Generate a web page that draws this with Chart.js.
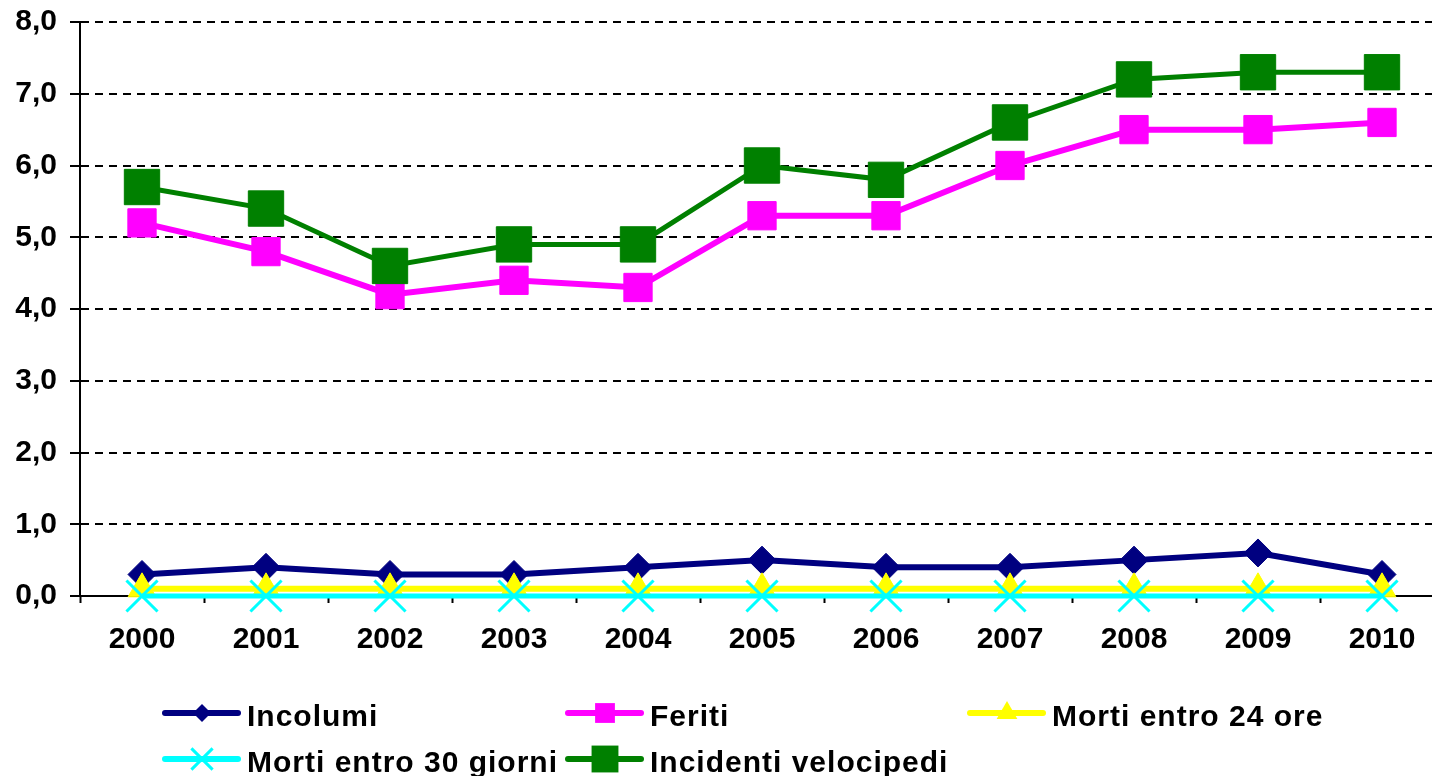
<!DOCTYPE html>
<html>
<head>
<meta charset="utf-8">
<script src="https://cdn.jsdelivr.net/npm/chart.js@4/dist/chart.umd.min.js"></script>
<style>
  html, body { margin: 0; padding: 0; background: #fff; overflow: hidden; }
  #wrap { width: 1444px; height: 776px; }
</style>
</head>
<body>
<div id="wrap"><canvas id="c" width="1444" height="776"></canvas></div>
<script>
const years = ['2000','2001','2002','2003','2004','2005','2006','2007','2008','2009','2010'];
const incolumi  = [0.3, 0.4, 0.3, 0.3, 0.4, 0.5, 0.4, 0.4, 0.5, 0.6, 0.3];
const feriti    = [5.2, 4.8, 4.2, 4.4, 4.3, 5.3, 5.3, 6.0, 6.5, 6.5, 6.6];
const morti24   = [0.1, 0.1, 0.1, 0.1, 0.1, 0.1, 0.1, 0.1, 0.1, 0.1, 0.1];
const morti30   = [0.0, 0.0, 0.0, 0.0, 0.0, 0.0, 0.0, 0.0, 0.0, 0.0, 0.0];
const incidenti = [5.7, 5.4, 4.6, 4.9, 4.9, 6.0, 5.8, 6.6, 7.2, 7.3, 7.3];
const seriesNames = ['Incolumi', 'Feriti', 'Morti entro 24 ore', 'Morti entro 30 giorni', 'Incidenti velocipedi'];

const FONT = "'Liberation Sans', Arial, sans-serif";

function ds(label, data, color, style, radius, width, order, legendR) {
  return {
    label, data, order,
    borderColor: color, backgroundColor: color,
    borderWidth: width, tension: 0, clip: false,
    pointStyle: style, pointRadius: radius, pointHoverRadius: radius,
    pointBackgroundColor: color, pointBorderColor: color,
    pointBorderWidth: style === 'crossRot' ? 3 : 1,
    legendR
  };
}

const datasets = [
  ds(seriesNames[0], incolumi, '#000080', 'rectRot', 14, 6, 5, 9),
  ds(seriesNames[1], feriti, '#FF00FF', 'rect', 20, 6, 4, 14),
  ds(seriesNames[2], morti24, '#FFFF00', 'triangle', 16, 6, 3, 12),
  ds(seriesNames[3], morti30, '#00FFFF', 'crossRot', 22, 5, 2, 15),
  ds(seriesNames[4], incidenti, '#008000', 'rect', 25, 5, 1, 19)
];

function drawMarker(ctx, d, x, y, r) {
  ctx.save();
  ctx.fillStyle = d.pointBackgroundColor;
  ctx.strokeStyle = d.pointBorderColor;
  ctx.beginPath();
  if (d.pointStyle === 'rectRot') {
    ctx.moveTo(x - r, y); ctx.lineTo(x, y - r); ctx.lineTo(x + r, y); ctx.lineTo(x, y + r);
    ctx.closePath(); ctx.fill();
  } else if (d.pointStyle === 'rect') {
    const s = r * Math.SQRT1_2;
    ctx.rect(x - s, y - s, 2 * s, 2 * s); ctx.fill();
  } else if (d.pointStyle === 'triangle') {
    ctx.moveTo(x, y - r);
    ctx.lineTo(x + r * Math.sin(2 * Math.PI / 3), y - r * Math.cos(2 * Math.PI / 3));
    ctx.lineTo(x + r * Math.sin(4 * Math.PI / 3), y - r * Math.cos(4 * Math.PI / 3));
    ctx.closePath(); ctx.fill();
  } else if (d.pointStyle === 'crossRot') {
    const o = r * Math.SQRT1_2;
    ctx.lineWidth = 3;
    ctx.moveTo(x - o, y - o); ctx.lineTo(x + o, y + o);
    ctx.moveTo(x + o, y - o); ctx.lineTo(x - o, y + o);
    ctx.stroke();
  }
  ctx.restore();
}

const gridLegend = {
  id: 'gridLegend',
  afterDraw(chart) {
    const ctx = chart.ctx;
    const cols = [165, 568, 970];
    const rows = [713, 759];
    chart.data.datasets.forEach((d, i) => {
      const x = cols[i % 3], y = rows[Math.floor(i / 3)];
      ctx.save();
      ctx.strokeStyle = d.borderColor;
      ctx.lineWidth = 6;
      ctx.lineCap = 'round';
      ctx.beginPath(); ctx.moveTo(x, y); ctx.lineTo(x + 73, y); ctx.stroke();
      ctx.restore();
      drawMarker(ctx, d, x + 37, y, d.legendR);
      ctx.save();
      ctx.fillStyle = '#000';
      ctx.font = "bold 30px " + FONT;
      ctx.letterSpacing = '1px';
      ctx.textAlign = 'left';
      ctx.textBaseline = 'alphabetic';
      ctx.fillText(d.label, x + 82, y + 13);
      ctx.restore();
    });
  }
};

new Chart(document.getElementById('c'), {
  type: 'line',
  data: { labels: years, datasets },
  options: {
    responsive: false,
    devicePixelRatio: 1,
    animation: false,
    layout: { autoPadding: false, padding: { top: 22, left: 0, right: 0, bottom: 0 } },
    plugins: { legend: { display: false }, tooltip: { enabled: false } },
    scales: {
      x: {
        offset: true,
        afterFit(scale) { scale.height = 180; scale.paddingLeft = 0; scale.paddingRight = 0; },
        grid: { display: true, offset: true, drawOnChartArea: false, drawTicks: true, tickLength: 7, tickColor: '#000', tickWidth: 2 },
        border: { display: true, color: '#000', width: 2 },
        ticks: { color: '#000', padding: 19, maxRotation: 0, font: { family: FONT, size: 30, weight: 'bold' } }
      },
      y: {
        min: 0, max: 8,
        afterFit(scale) { scale.width = 80; scale.paddingTop = 0; scale.paddingBottom = 0; },
        grid: { color: '#000', lineWidth: 2, drawTicks: true, tickLength: 10, tickColor: '#000', tickWidth: 2 },
        border: { display: true, color: '#000', width: 2, dash: [8, 6] },
        ticks: {
          stepSize: 1, color: '#000', padding: 13,
          font: { family: FONT, size: 30, weight: 'bold' },
          callback: v => v.toFixed(1).replace('.', ',')
        }
      }
    }
  },
  plugins: [gridLegend]
});
</script>
</body>
</html>
